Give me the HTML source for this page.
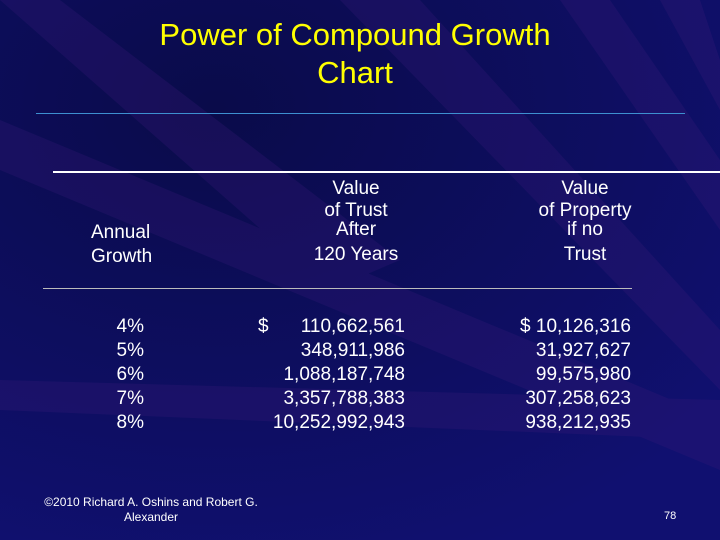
<!DOCTYPE html>
<html><head><meta charset="utf-8"><style>
body{margin:0}
#s{position:relative;width:720px;height:540px;overflow:hidden;background:#0b0c5c;font-family:"Liberation Sans",sans-serif;color:#fff}
.t{position:absolute;white-space:nowrap;font-size:19px;line-height:20px}
.r{text-align:right}
.c{text-align:center}
</style></head><body>
<div id="s">
<svg width="720" height="540" style="position:absolute;left:0;top:0">
<defs><radialGradient id="g" cx="0.3" cy="0.2" r="0.9"><stop offset="0" stop-color="#0a0b4a"/><stop offset="1" stop-color="#101070"/></radialGradient></defs>
<rect width="720" height="540" fill="url(#g)"/>
<g fill="#3a1a7a" opacity="0.28">
<polygon points="0,120 0,170 720,470 720,420"/>
<polygon points="340,0 420,0 720,330 720,390"/>
<polygon points="560,0 610,0 720,160 720,230"/>
<polygon points="0,380 0,410 720,440 720,400"/>
<polygon points="0,0 60,0 400,260 330,290"/>
<polygon points="660,0 700,0 720,60 720,110"/>
</g>
</svg>
<div class="t c" style="left:0;width:710px;top:16px;font-size:31px;line-height:38px;color:#ffff00">Power of Compound Growth<br>Chart</div>
<div style="position:absolute;left:36px;top:113px;width:649px;height:1px;background:#3d8fd0"></div>
<div style="position:absolute;left:53px;top:171px;width:667px;height:2px;background:#fff"></div>
<div style="position:absolute;left:43px;top:288px;width:589px;height:1px;background:#bbb"></div>
<div class="t" style="left:91px;top:221px;line-height:24px">Annual<br>Growth</div>
<div class="t c" style="left:256px;width:200px;top:178px;line-height:22px">Value<br>of Trust<br><span style="position:relative;top:-3px">After</span><br>120 Years</div>
<div class="t c" style="left:485px;width:200px;top:178px;line-height:22px">Value<br>of Property<br><span style="position:relative;top:-3px">if no</span><br>Trust</div>
<div id="rows"></div>
<div class="t" style="left:258px;top:317px">$</div>
<div class="t c" style="left:41px;width:220px;top:495px;font-size:12px;line-height:15px">©2010 Richard A. Oshins and Robert G.<br>Alexander</div>
<div class="t" style="left:664px;top:510px;font-size:11px;line-height:13px">78</div>
</div>
<script>
const growth=["4%","5%","6%","7%","8%"];
const trustValues=["110,662,561","348,911,986","1,088,187,748","3,357,788,383","10,252,992,943"];
const noTrustValues=["$ 10,126,316","31,927,627","99,575,980","307,258,623","938,212,935"];
const host=document.getElementById('rows');
function mk(txt,right,top,name){
 const d=document.createElement('div');
 d.className='t r';
 d.style.left=(right-200)+'px';d.style.width='200px';d.style.top=top+'px';
 d.textContent=txt;
 
 
 host.appendChild(d);
}
growth.forEach((g,i)=>{
 const top=317+i*24;
 mk(g,144,top,'growth-rate-'+i);
 mk(trustValues[i],405,top,'trust-value-'+i);
 mk(noTrustValues[i],631,top,'no-trust-value-'+i);
});
</script>
</body></html>
